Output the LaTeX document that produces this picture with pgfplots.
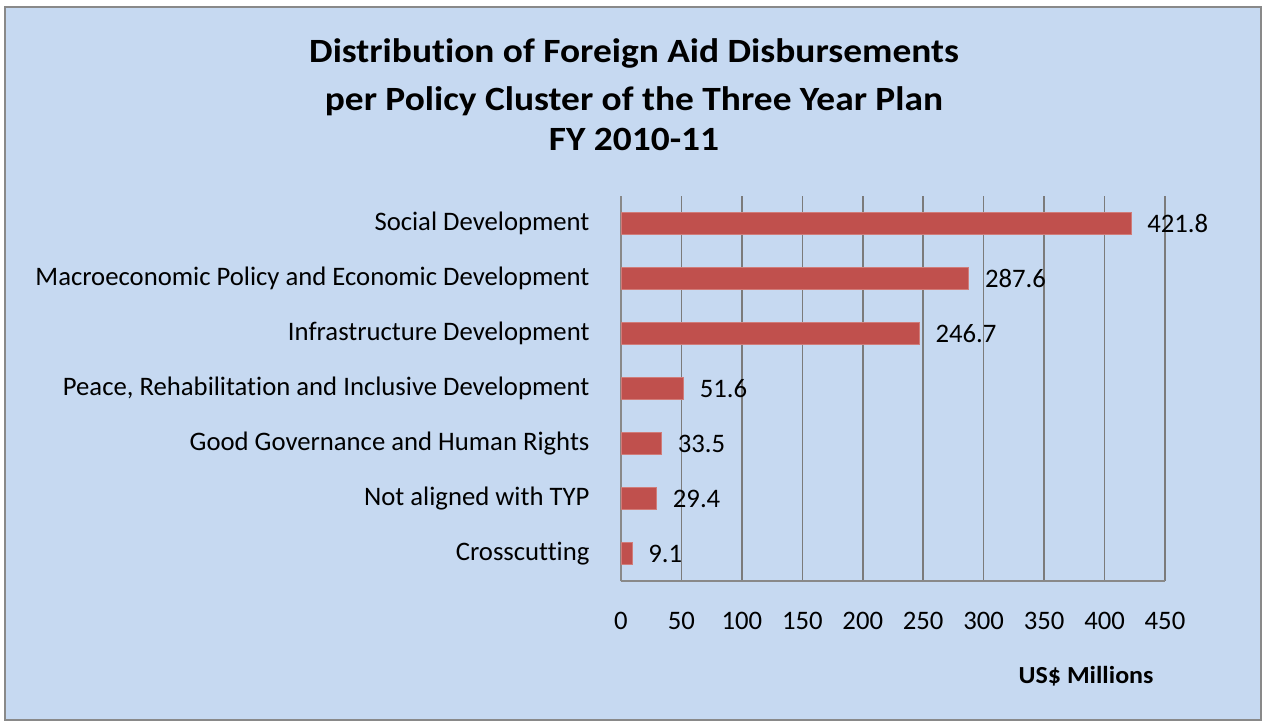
\documentclass[border=0pt]{standalone}
\usepackage{fontspec}
\setmainfont{Carlito}[Ligatures=CommonOff]
\usepackage{graphicx}
\usepackage{pgfplots}
\pgfplotsset{compat=1.18}
\definecolor{bgblue}{HTML}{C6D9F1}
\definecolor{barred}{HTML}{C0504D}
\definecolor{gridgray}{HTML}{898989}
\begin{document}
\begin{tikzpicture}[x=1pt,y=1pt]
\fill[white] (0,0) rectangle (1262,721);
\draw[fill=bgblue, draw=gridgray, line width=2pt] (5,1) rectangle (1261,714);
\node[anchor=base, font=\bfseries\fontsize{34}{40}\selectfont] at (634,721-62.7) {\scalebox{1.1}[1]{Distribution of Foreign Aid Disbursements}};
\node[anchor=base, font=\bfseries\fontsize{34}{40}\selectfont] at (634,721-110.7) {\scalebox{1.1}[1]{per Policy Cluster of the Three Year Plan}};
\node[anchor=base, font=\bfseries\fontsize{34}{40}\selectfont] at (634,721-151) {\scalebox{1.1}[1]{FY 2010-11}};
\node[anchor=base east, font=\bfseries\fontsize{24.5}{28}\selectfont] at (1157,721-683) {\scalebox{1.06}[1]{US\$ Millions}};
\begin{axis}[
  at={(621pt,140pt)}, anchor=south west,
  scale only axis, width=544pt, height=385pt,
  xmin=0, xmax=450, ymin=-0.5, ymax=6.5,
  xtick={0,50,...,450},
  ytick={0,...,6},
  yticklabels={Crosscutting, Not aligned with TYP, Good Governance and Human Rights, {Peace, Rehabilitation and Inclusive Development}, Infrastructure Development, Macroeconomic Policy and Economic Development, Social Development},
  axis lines*=left,
  axis line style={draw=gridgray, line width=1.6pt},
  xmajorgrids, major grid style={draw=gridgray!90!black, line width=1.6pt},
  major tick length=0pt,
  tick label style={font=\fontsize{26.7}{31}\selectfont},
  /pgf/number format/assume math mode=true,
  xticklabel shift=28pt,
  yticklabel shift=28pt,
  xbar, bar width=22pt,
  nodes near coords={\pgfmathprintnumber[fixed,precision=1,fixed zerofill]{\pgfplotspointmeta}},
  nodes near coords style={anchor=west, inner sep=0pt, xshift=16pt, font=\fontsize{26.7}{31}\selectfont, /pgf/number format/assume math mode=true},
  clip=false,
]
\addplot[fill=barred, draw=barred!75!white, line width=0.8pt] coordinates {
 (9.1,0) (29.4,1) (33.5,2) (51.6,3) (246.7,4) (287.6,5) (421.8,6)
};
\end{axis}
\end{tikzpicture}
\end{document}
